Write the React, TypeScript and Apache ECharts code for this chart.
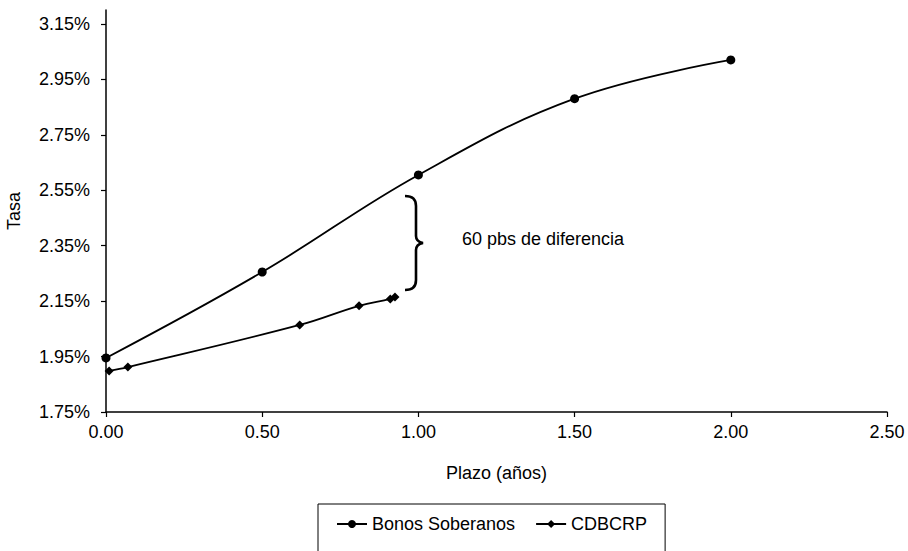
import React, { useEffect, useRef } from 'react';
import * as echarts from 'echarts';

// ---- data ----
const bonosPlazo = [0, 0.5, 1.0, 1.5, 2.0];
const bonosTasa = [1.945, 2.255, 2.605, 2.88, 3.02];
const cdbcrpPlazo = [0.01, 0.07, 0.62, 0.81, 0.91, 0.925];
const cdbcrpTasa = [1.898, 1.912, 2.064, 2.133, 2.158, 2.165];
const yTickValues = [1.75, 1.95, 2.15, 2.35, 2.55, 2.75, 2.95, 3.15];
const seriesNames = ['Bonos Soberanos', 'CDBCRP'];
const xAxisName = 'Plazo (años)';
const yAxisName = 'Tasa';
const annotationText = '60 pbs de diferencia';

const FONT = '"Liberation Sans", Arial, Helvetica, sans-serif';

const bracePath =
  'M0,0 C7,0 11,3 11,10 L11,40 C11,44 13,46 18,47 C13,48 11,50 11,54 L11,84 C11,91 7,94 0,94';

let braceRegistered = false;
function ensureBrace() {
  if (braceRegistered) return;
  echarts.graphic.registerShape('brace', echarts.graphic.extendPath(bracePath, {}) as any);
  braceRegistered = true;
}

export default function App() {
  const ref = useRef<HTMLDivElement>(null);

  useEffect(() => {
    if (!ref.current) return;
    ensureBrace();
    const chart = echarts.init(ref.current, undefined, { renderer: 'svg' });
    const bonosData = bonosPlazo.map((x, i) => [x, bonosTasa[i]]);
    const cdbData = cdbcrpPlazo.map((x, i) => [x, cdbcrpTasa[i]]);

    chart.setOption({
      animation: false,
      backgroundColor: '#ffffff',
      textStyle: { fontFamily: FONT, color: '#000' },
      grid: {
        left: 106,
        right: 21,
        top: 10,
        bottom: 139,
        containLabel: false,
        outerBoundsMode: 'none',
      },
      xAxis: {
        type: 'value',
        min: 0,
        max: 2.5,
        interval: 0.5,
        name: xAxisName,
        nameLocation: 'middle',
        nameGap: 52,
        nameTextStyle: { fontFamily: FONT, fontSize: 18, color: '#000' },
        axisLine: { show: true, onZero: false, lineStyle: { color: '#000', width: 1.5 } },
        axisTick: { show: true, inside: false, length: 5, lineStyle: { color: '#000', width: 1.2 } },
        axisLabel: {
          fontFamily: FONT,
          fontSize: 18,
          color: '#000',
          margin: 11,
          formatter: (v: number) => v.toFixed(2),
        },
        splitLine: { show: false },
      },
      yAxis: {
        type: 'value',
        min: 1.75,
        max: 3.2,
        name: yAxisName,
        nameLocation: 'middle',
        nameGap: 83,
        nameRotate: 90,
        nameTextStyle: { fontFamily: FONT, fontSize: 18, color: '#000' },
        axisLine: { show: true, onZero: false, lineStyle: { color: '#000', width: 1.5 } },
        axisTick: {
          show: true,
          length: 5,
          customValues: yTickValues,
          lineStyle: { color: '#000', width: 1.2 },
        },
        axisLabel: {
          fontFamily: FONT,
          fontSize: 18,
          color: '#000',
          margin: 16,
          customValues: yTickValues,
          formatter: (v: number) => v.toFixed(2) + '%',
        },
        splitLine: { show: false },
      },
      legend: {
        left: 318,
        top: 504,
        orient: 'horizontal',
        padding: [11, 18, 24, 18],
        itemGap: 20,
        itemWidth: 30,
        itemHeight: 10,
        borderColor: '#000',
        borderWidth: 1,
        backgroundColor: '#fff',
        textStyle: { fontFamily: FONT, fontSize: 18, color: '#000' },
        data: seriesNames,
      },
      series: [
        {
          name: seriesNames[0],
          type: 'line',
          data: bonosData,
          smooth: 0.4,
          symbol: 'circle',
          symbolSize: 9,
          lineStyle: { color: '#000', width: 1.8 },
          itemStyle: { color: '#000' },
        },
        {
          name: seriesNames[1],
          type: 'line',
          data: cdbData,
          smooth: 0.4,
          symbol: 'diamond',
          symbolSize: 9,
          lineStyle: { color: '#000', width: 1.8 },
          itemStyle: { color: '#000' },
        },
      ],
      graphic: [
        {
          type: 'brace',
          x: 405,
          y: 196,
          style: { stroke: '#000', lineWidth: 2.6, fill: null },
        },
        {
          type: 'text',
          x: 462,
          y: 239,
          style: {
            text: annotationText,
            fontFamily: FONT,
            fontSize: 18,
            fill: '#000',
            verticalAlign: 'middle',
            align: 'left',
          },
        },
      ],
    });

    return () => chart.dispose();
  }, []);

  return (
    <div
      ref={ref}
      style={{ position: 'fixed', left: 0, top: 0, width: 908, height: 551, background: '#fff' }}
    />
  );
}
